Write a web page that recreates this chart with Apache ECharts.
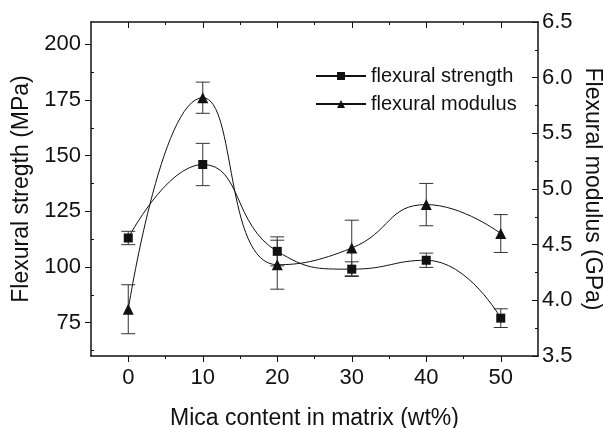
<!DOCTYPE html>
<html>
<head>
<meta charset="utf-8">
<script src="https://cdn.jsdelivr.net/npm/echarts@6/dist/echarts.min.js"></script>
<style>
  html, body { margin: 0; padding: 0; background: #fff; }
  #chart { width: 603px; height: 428px; }
</style>
</head>
<body>
<div id="chart"></div>
<script>
// mica content (wt%)
var mica = [0, 10, 20, 30, 40, 50]
// flexural strength (MPa) and its error
var strength = [113, 146, 107, 99, 103, 77]
var strengthErr = [3, 9.5, 6.5, 3.3, 3.2, 4.2]
// flexural modulus (GPa) and its error
var modulus = [3.92, 5.82, 4.32, 4.47, 4.86, 4.6]
var modulusErr = [0.22, 0.14, 0.22, 0.25, 0.19, 0.17]

var xMajor = [0, 10, 20, 30, 40, 50]
var xMinor = [5, 15, 25, 35, 45]
var yLeftMajor = [75, 100, 125, 150, 175, 200]
var yLeftMinor = [62.5, 87.5, 112.5, 137.5, 162.5, 187.5]

var font = 'Liberation Sans, Arial, Helvetica, sans-serif'
var ink = '#111'

function pairs(xs, ys) {
  return xs.map(function (x, i) { return [x, ys[i]] })
}

function errorBars(name, ys, errs, yAxisIndex) {
  return {
    type: 'custom',
    name: name,
    xAxisIndex: 0,
    yAxisIndex: yAxisIndex,
    z: 1,
    silent: true,
    data: mica.map(function (x, i) { return [x, ys[i] - errs[i], ys[i] + errs[i]] }),
    renderItem: function (params, api) {
      var lo = api.coord([api.value(0), api.value(1)])
      var hi = api.coord([api.value(0), api.value(2)])
      var w = 7
      var style = { stroke: '#333', lineWidth: 1 }
      return {
        type: 'group',
        children: [
          { type: 'line', shape: { x1: hi[0], y1: hi[1], x2: lo[0], y2: lo[1] }, style: style },
          { type: 'line', shape: { x1: hi[0] - w, y1: hi[1], x2: hi[0] + w, y2: hi[1] }, style: style },
          { type: 'line', shape: { x1: lo[0] - w, y1: lo[1], x2: lo[0] + w, y2: lo[1] }, style: style }
        ]
      }
    }
  }
}

// extra axis that only draws a set of ticks
function tickAxis(position, values, len, inside, extra) {
  var ax = {
    type: 'value',
    position: position,
    axisLine: { show: false, onZero: false },
    axisTick: { show: true, customValues: values, length: len, inside: inside, lineStyle: { color: ink, width: 1 } },
    axisLabel: { show: false },
    splitLine: { show: false }
  }
  return Object.assign(ax, extra)
}

var chart = echarts.init(document.getElementById('chart'))

chart.setOption({
  animation: false,
  backgroundColor: '#fff',
  grid: { left: 91, right: 65, top: 22, bottom: 72, outerBoundsMode: 'none' },
  legend: {
    orient: 'vertical',
    left: 315,
    top: 66,
    padding: 0,
    itemWidth: 50,
    itemHeight: 10,
    itemGap: 8,
    data: ['flexural strength', 'flexural modulus'],
    textStyle: { fontFamily: font, fontSize: 20, color: ink }
  },
  xAxis: [
    {
      type: 'value',
      position: 'bottom',
      min: -5,
      max: 55,
      name: 'Mica content in matrix (wt%)',
      nameLocation: 'middle',
      nameGap: 51,
      nameTextStyle: { fontFamily: font, fontSize: 23, color: ink },
      axisLine: { show: true, onZero: false, lineStyle: { color: ink, width: 1.5 } },
      axisTick: { show: true, customValues: xMajor, length: 6, lineStyle: { color: ink, width: 1 } },
      axisLabel: { customValues: xMajor, margin: 11, fontFamily: font, fontSize: 22, color: ink },
      splitLine: { show: false }
    },
    tickAxis('bottom', xMinor, 3, false, { min: -5, max: 55 }),
    tickAxis('top', xMajor, 6, true, {
      min: -5, max: 55,
      axisLine: { show: true, onZero: false, lineStyle: { color: ink, width: 1.5 } }
    }),
    tickAxis('top', xMinor, 3, true, { min: -5, max: 55 })
  ],
  yAxis: [
    {
      type: 'value',
      position: 'left',
      min: 60,
      max: 210,
      name: 'Flexural stregth (MPa)',
      nameLocation: 'middle',
      nameRotate: 90,
      nameGap: 58,
      nameTextStyle: { fontFamily: font, fontSize: 23, color: ink },
      axisLine: { show: true, onZero: false, lineStyle: { color: ink, width: 1.5 } },
      axisTick: { show: true, customValues: yLeftMajor, length: 6, lineStyle: { color: ink, width: 1 } },
      axisLabel: { customValues: yLeftMajor, margin: 10, fontFamily: font, fontSize: 22, color: ink },
      splitLine: { show: false }
    },
    {
      type: 'value',
      position: 'right',
      min: 3.5,
      max: 6.5,
      interval: 0.5,
      name: 'Flexural modulus (GPa)',
      nameLocation: 'middle',
      nameRotate: -90,
      nameGap: 43,
      nameMoveOverlap: false,
      nameTextStyle: { fontFamily: font, fontSize: 23, color: ink },
      axisLine: { show: true, onZero: false, lineStyle: { color: ink, width: 1.5 } },
      axisTick: { show: true, inside: true, length: 6, lineStyle: { color: ink, width: 1 } },
      minorTick: { show: true, splitNumber: 2, length: 3, lineStyle: { color: ink, width: 1 } },
      axisLabel: {
        margin: 4, fontFamily: font, fontSize: 22, color: ink,
        formatter: function (v) { return v.toFixed(1) }
      },
      splitLine: { show: false },
      minorSplitLine: { show: false }
    },
    tickAxis('left', yLeftMinor, 3, true, { min: 60, max: 210 })
  ],
  series: [
    errorBars('strength error', strength, strengthErr, 0),
    errorBars('modulus error', modulus, modulusErr, 1),
    {
      name: 'flexural strength',
      type: 'line',
      xAxisIndex: 0,
      yAxisIndex: 0,
      data: pairs(mica, strength),
      smooth: 0.5,
      symbol: 'rect',
      symbolSize: 9,
      itemStyle: { color: ink },
      lineStyle: { color: ink, width: 1 },
      z: 3
    },
    {
      name: 'flexural modulus',
      type: 'line',
      xAxisIndex: 0,
      yAxisIndex: 1,
      data: pairs(mica, modulus),
      smooth: 0.5,
      symbol: 'triangle',
      symbolSize: 11,
      itemStyle: { color: ink },
      lineStyle: { color: ink, width: 1 },
      z: 3
    }
  ]
})
</script>
</body>
</html>
